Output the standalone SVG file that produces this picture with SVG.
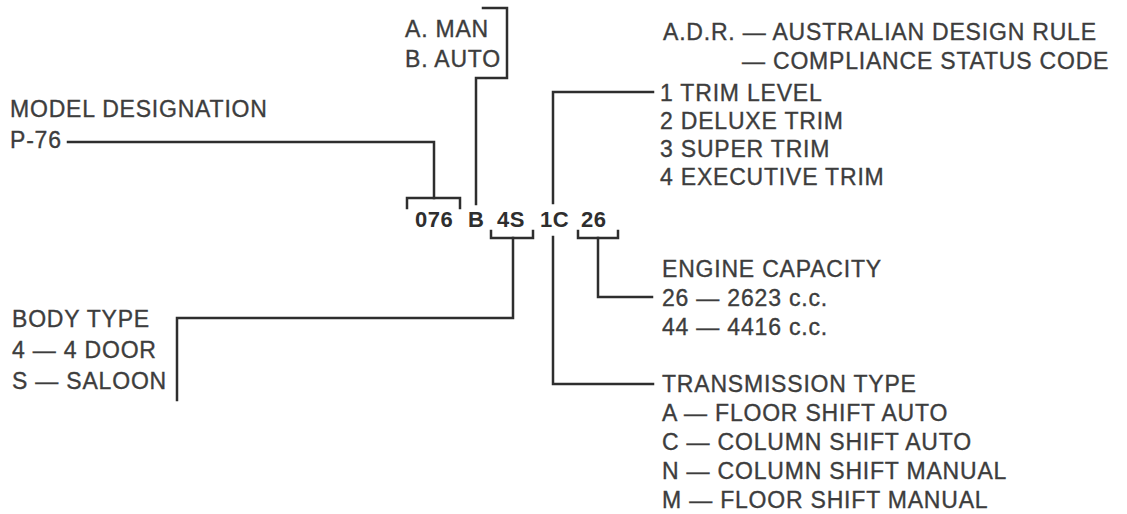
<svg xmlns="http://www.w3.org/2000/svg" width="1127" height="514" viewBox="0 0 1127 514">
<style>
.t{font-family:"Liberation Sans",Arial,Helvetica,sans-serif;font-size:23px;letter-spacing:0.8px;fill:#3d3d3d;stroke:#3d3d3d;stroke-width:0.35}
.c{font-family:"Liberation Sans",Arial,Helvetica,sans-serif;font-size:22px;font-weight:bold;letter-spacing:0.5px;fill:#2e2e2e}
.l{fill:none;stroke:#2e2e2e;stroke-width:2.5;stroke-linecap:square;stroke-linejoin:miter}
</style>
<rect width="1127" height="514" fill="#ffffff"/>
<g id="connectors">
<polyline class="l" points="483,8 507,8 507,78 476,78 476,204"/>
<polyline class="l" points="68,142 434,142 434,198"/>
<polyline class="l" points="407,208 407,198 460,198 460,208"/>
<polyline class="l" points="491,231 491,238 533,238 533,231"/>
<polyline class="l" points="513,238 513,318 177,318 177,400"/>
<polyline class="l" points="653,92 553,92 553,203"/>
<polyline class="l" points="553,237 553,384 653,384"/>
<polyline class="l" points="578,231 578,238 618,238 618,231"/>
<polyline class="l" points="598,238 598,297 652,297"/>
</g>
<g id="code">
<text class="c" x="415" y="227">076</text>
<text class="c" x="468" y="227">B</text>
<text class="c" x="497" y="227">4S</text>
<text class="c" x="540" y="227">1C</text>
<text class="c" x="581" y="227">26</text>
</g>
<g id="transmission-ab">
<text class="t" x="405" y="37">A. MAN</text>
<text class="t" x="405" y="67">B. AUTO</text>
</g>
<g id="model">
<text class="t" x="10" y="117">MODEL DESIGNATION</text>
<text class="t" x="10" y="148">P-76</text>
</g>
<g id="adr">
<text class="t" x="663" y="40">A.D.R. — AUSTRALIAN DESIGN RULE</text>
<text class="t" x="742" y="69">— COMPLIANCE STATUS CODE</text>
</g>
<g id="trim">
<text class="t" x="660" y="101">1 TRIM LEVEL</text>
<text class="t" x="660" y="129">2 DELUXE TRIM</text>
<text class="t" x="660" y="157">3 SUPER TRIM</text>
<text class="t" x="660" y="185">4 EXECUTIVE TRIM</text>
</g>
<g id="engine">
<text class="t" x="662" y="277">ENGINE CAPACITY</text>
<text class="t" x="662" y="306">26 — 2623 c.c.</text>
<text class="t" x="662" y="335">44 — 4416 c.c.</text>
</g>
<g id="body">
<text class="t" x="12" y="327">BODY TYPE</text>
<text class="t" x="12" y="358">4 — 4 DOOR</text>
<text class="t" x="12" y="389">S — SALOON</text>
</g>
<g id="transmission">
<text class="t" x="662" y="392">TRANSMISSION TYPE</text>
<text class="t" x="662" y="421">A — FLOOR SHIFT AUTO</text>
<text class="t" x="662" y="450">C — COLUMN SHIFT AUTO</text>
<text class="t" x="662" y="479">N — COLUMN SHIFT MANUAL</text>
<text class="t" x="662" y="508">M — FLOOR SHIFT MANUAL</text>
</g>
</svg>
